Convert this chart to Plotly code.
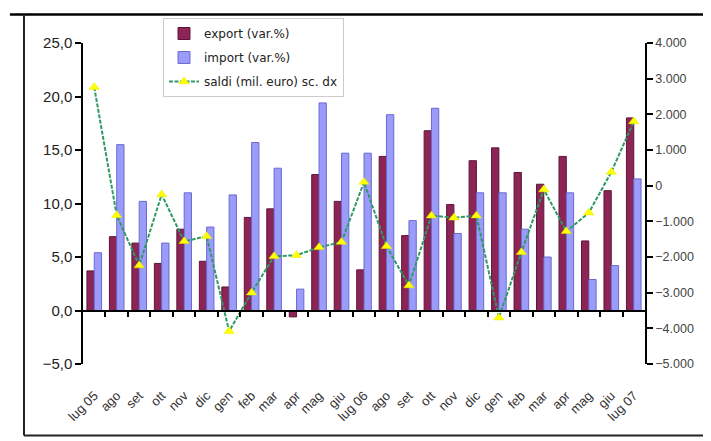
import plotly.graph_objects as go

months = ["lug 05", "ago", "set", "ott", "nov", "dic", "gen", "feb", "mar", "apr",
          "mag", "giu", "lug 06", "ago", "set", "ott", "nov", "dic", "gen", "feb",
          "mar", "apr", "mag", "giu", "lug 07"]
export_var = [3.7, 6.9, 6.3, 4.4, 7.6, 4.6, 2.2, 8.7, 9.5, -0.6, 12.7, 10.2, 3.8,
              14.4, 7.0, 16.8, 9.9, 14.0, 15.2, 12.9, 11.8, 14.4, 6.5, 11.2, 18.0]
import_var = [5.4, 15.5, 10.2, 6.3, 11.0, 7.8, 10.8, 15.7, 13.3, 2.0, 19.4, 14.7, 14.7,
              18.3, 8.4, 18.9, 7.2, 11.0, 11.0, 7.6, 5.0, 11.0, 2.9, 4.2, 12.3]
saldi = [2760, -830, -2240, -250, -1560, -1420, -4080, -3000, -1980, -1950, -1730,
         -1580, 100, -1700, -2800, -840, -900, -840, -3700, -1870, -110, -1280, -760,
         380, 1800]

left_range = [-5, 25]
right_range = [-5000, 4000]

x = list(range(len(months)))
boundaries = [i + 0.5 for i in range(len(months) - 1)]
FONT = "Liberation Sans, Arial, sans-serif"
LEGFONT = "DejaVu Sans, Verdana, sans-serif"

fig = go.Figure()
fig.add_trace(go.Bar(
    x=x, y=export_var, name="export (var.%)", legendgroup="a",
    marker=dict(color="#8c2456", line=dict(color="#5e1538", width=1)),
))
fig.add_trace(go.Bar(
    x=x, y=import_var, name="import (var.%)", legendgroup="b",
    marker=dict(color="#9b9bfa", line=dict(color="#6a6ad0", width=1)),
))
fig.add_trace(go.Scatter(
    x=x, y=saldi, name="saldi (mil. euro) sc. dx", yaxis="y2", legendgroup="c",
    mode="lines+markers",
    line=dict(color="#2f9a64", width=2, dash="4px,1.5px"),
    marker=dict(symbol="triangle-up", size=9, color="#ffff00",
                line=dict(color="#e6e600", width=0.5)),
))
# helper trace for the zero-line axis with boundary ticks
fig.add_trace(go.Scatter(
    x=x, y=[None] * len(x), xaxis="x2", yaxis="y", showlegend=False,
    hoverinfo="skip", mode="markers",
))

zero_pos = (0 - left_range[0]) / (left_range[1] - left_range[0])

# the page body adds an 8px offset, so margins are reduced accordingly
fig.update_layout(
    width=711, height=441,
    margin=dict(l=75, r=74, t=35, b=85, autoexpand=False),
    paper_bgcolor="white", plot_bgcolor="white",
    separators=",.",
    barmode="group", bargap=0.35, bargroupgap=0.0,
    font=dict(family=FONT, size=12, color="#222"),
    showlegend=True,
    legend=dict(
        xref="container", yref="container",
        x=155 / 711, y=1 - 10 / 441, xanchor="left", yanchor="top",
        bgcolor="white", bordercolor="#cccccc", borderwidth=1,
        font=dict(family=LEGFONT, size=12, color="#222"),
        tracegroupgap=5, traceorder="grouped",
    ),
    xaxis=dict(
        range=[-0.5, len(months) - 0.5],
        tickmode="array", tickvals=x, ticktext=months, tickangle=-45,
        ticks="outside", ticklen=18, tickcolor="rgba(0,0,0,0)",
        showline=False, showgrid=False, zeroline=False,
        tickfont=dict(family=FONT, size=13, color="#333"),
    ),
    xaxis2=dict(
        overlaying="x", anchor="free", position=zero_pos,
        range=[-0.5, len(months) - 0.5],
        tickmode="array", tickvals=boundaries, showticklabels=False,
        ticks="outside", ticklen=6, tickwidth=1.5, tickcolor="black",
        showline=True, linecolor="black", linewidth=1.5,
        showgrid=False, zeroline=False,
    ),
    yaxis=dict(
        range=left_range, dtick=5, tickformat=".1f",
        ticks="outside", ticklen=6, tickwidth=1.5, tickcolor="black",
        showline=True, linecolor="black", linewidth=1.5,
        showgrid=False, zeroline=False,
        tickfont=dict(family=FONT, size=15, color="#222"),
    ),
    yaxis2=dict(
        range=right_range, dtick=1000, tickformat=",.0f", overlaying="y", side="right",
        ticks="outside", ticklen=6, tickwidth=1.5, tickcolor="black",
        showline=True, linecolor="black", linewidth=1.5,
        showgrid=False, zeroline=False,
        tickfont=dict(family=FONT, size=12.5, color="#444"),
    ),
)

# frame around the chart (paper coordinates relative to plot area)
L, R, T, B = -0.105, 1.1139, 1.0888, -0.2227
fig.add_shape(type="line", xref="paper", yref="paper", x0=-0.13, x1=1.12, y0=T, y1=T,
              line=dict(color="black", width=2.5))
fig.add_shape(type="line", xref="paper", yref="paper", x0=L, x1=L, y0=T, y1=B,
              line=dict(color="#222", width=2))
fig.add_shape(type="line", xref="paper", yref="paper", x0=L, x1=R, y0=B, y1=B,
              line=dict(color="#222", width=2))
fig.add_shape(type="line", xref="paper", yref="paper", x0=R, x1=R, y0=T, y1=B,
              line=dict(color="#222", width=2))

fig.write_html("out.html")
